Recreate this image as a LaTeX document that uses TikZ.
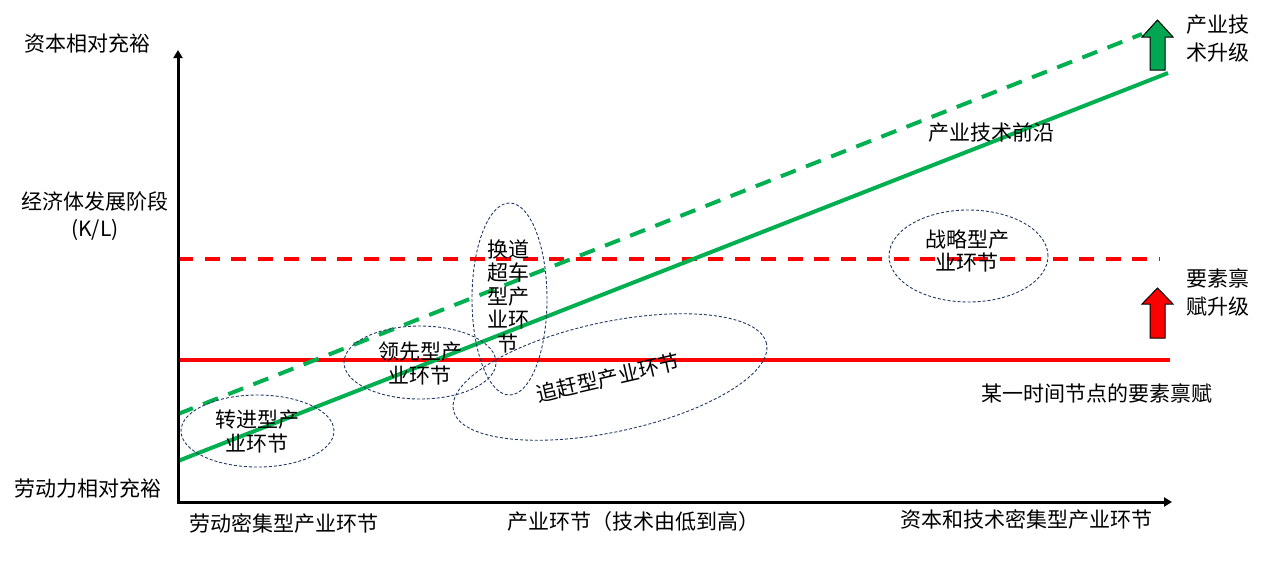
\documentclass[tikz,border=0pt]{standalone}
\usepackage{fontspec}
\setmainfont{Noto Sans CJK SC}
\usetikzlibrary{arrows.meta,shapes.geometric}
\definecolor{lgreen}{HTML}{00B050}
\definecolor{agreen}{HTML}{00A651}
\definecolor{lred}{HTML}{FF0000}
\definecolor{navy}{HTML}{203864}
\begin{document}
\begin{tikzpicture}[x=1pt,y=-1pt,
  lbl/.style={font=\fontsize{21}{23.5}\selectfont, align=center, inner sep=0pt, text=black},
  axisline/.style={line width=3pt, {Triangle[length=8pt,width=9pt]}-{Triangle[length=8pt,width=9pt]}},
  ell/.style={draw=navy, line width=0.9pt, dash pattern=on 3pt off 2pt, ellipse, inner sep=0pt},
  redline/.style={draw=lred, line width=4pt},
  greenline/.style={draw=lgreen, line width=4pt},
  dashes/.style={dash pattern=on 15pt off 11.5pt},
  blockarrow/.style={draw=black, line width=1pt, line join=miter}
]
\useasboundingbox (0,0) rectangle (1273,563);

% coordinates
\coordinate (O) at (178,502);
\coordinate (Ytop) at (178,50);
\coordinate (Xend) at (1172,502);
\coordinate (R1a) at (178,360);
\coordinate (R1b) at (1170,360);
\coordinate (R2a) at (178,259);
\coordinate (R2b) at (1160,259);
\coordinate (G1a) at (178,461);
\coordinate (G1b) at (1168,73);
\coordinate (G2a) at (178,414);
\coordinate (G2b) at (1142,34);

% lines
\draw[redline] (R1a) -- (R1b);
\draw[redline, dashes] (R2a) -- (R2b);
\draw[greenline] (G1a) -- (G1b);
\draw[greenline, dash pattern=on 16pt off 11pt] (G2a) -- (G2b);

% axes
\draw[axisline] (Ytop) -- (O) -- (Xend);

% block arrows
\filldraw[blockarrow, fill=agreen] (1150,70) -- (1150,37) -- (1142,37) -- (1157.5,20) -- (1173,37) -- (1165,37) -- (1165,70) -- cycle;
\filldraw[blockarrow, fill=lred] (1150,338) -- (1150,304) -- (1142,304) -- (1157.5,288) -- (1173,304) -- (1165,304) -- (1165,338) -- cycle;

% ellipses
\node[ell, minimum width=153pt, minimum height=72pt] (e1) at (257.5,431) {};
\node[ell, minimum width=152pt, minimum height=73pt] (e2) at (420,362.5) {};
\node[ell, minimum width=75pt, minimum height=192pt] (e3) at (509.5,299) {};
\node[ell, minimum width=320pt, minimum height=110pt, rotate=12] (e4) at (610,377) {};
\node[ell, minimum width=159pt, minimum height=92pt] (e5) at (968.5,256) {};

% ellipse labels
\node[lbl] (t1) at (257,431.5) {转进型产\\业环节};
\node[lbl] (t2) at (420,363.5) {领先型产\\业环节};
\node[lbl] (t3) at (508,296) {换道\\超车\\型产\\业环\\节};
\node[lbl, rotate=13] (t4) at (608,378) {追赶型产业环节};
\node[lbl] (t5) at (967,251) {战略型产\\业环节};

% axis labels
\node[lbl] (ytop) at (87,43) {资本相对充裕};
\node[lbl] (ymid) at (95,216) {经济体发展阶段\\[3pt](K/L)};
\node[lbl] (ybot) at (88,489) {劳动力相对充裕};
\node[lbl] (xl) at (284,523) {劳动密集型产业环节};
\node[lbl] (xm) at (633,522) {产业环节（技术由低到高）};
\node[lbl] (xr) at (1026,519) {资本和技术密集型产业环节};

% right labels
\node[lbl] (front) at (991,133) {产业技术前沿};
\node[lbl] (endow) at (1097,393) {某一时间节点的要素禀赋};
\node[lbl] (techup) at (1218,38.5) {产业技\\[5pt]术升级};
\node[lbl] (endup) at (1218,292.5) {要素禀\\[5pt]赋升级};
\end{tikzpicture}
\end{document}
